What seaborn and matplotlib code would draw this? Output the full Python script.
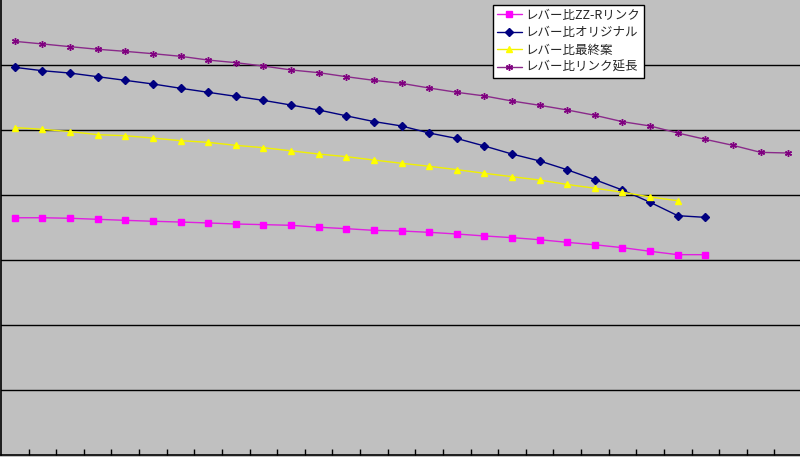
import matplotlib
matplotlib.use("Agg")
import matplotlib.pyplot as plt
import seaborn as sns
import pandas as pd
from matplotlib.lines import Line2D

sns.set_theme(style="white")
plt.rcParams['font.family'] = ['Noto Sans CJK JP', 'DejaVu Sans']

labels = ["レバー比ZZ-Rリンク", "レバー比オリジナル", "レバー比最終案", "レバー比リンク延長"]

zzr = [1.825, 1.825, 1.821, 1.813, 1.805, 1.798, 1.792, 1.785, 1.777, 1.772,
       1.767, 1.752, 1.741, 1.728, 1.723, 1.713, 1.700, 1.685, 1.672, 1.656,
       1.636, 1.617, 1.595, 1.567, 1.541, 1.541]
original = [2.982, 2.956, 2.938, 2.910, 2.882, 2.854, 2.821, 2.790, 2.759, 2.728,
            2.692, 2.654, 2.609, 2.565, 2.531, 2.477, 2.435, 2.377, 2.315, 2.262,
            2.194, 2.118, 2.038, 1.944, 1.841, 1.828]
final = [2.519, 2.505, 2.488, 2.464, 2.456, 2.438, 2.418, 2.405, 2.382, 2.364,
         2.340, 2.315, 2.295, 2.269, 2.244, 2.221, 2.195, 2.167, 2.141, 2.115,
         2.081, 2.052, 2.021, 1.985, 1.956]
extended = [3.182, 3.162, 3.141, 3.121, 3.105, 3.087, 3.067, 3.038, 3.018, 2.992,
            2.962, 2.941, 2.910, 2.882, 2.859, 2.823, 2.790, 2.762, 2.723, 2.690,
            2.654, 2.613, 2.564, 2.531, 2.477, 2.428, 2.382, 2.328, 2.323]

n_categories = 29
series = [zzr, original, final, extended]
line_colors = ["#E020E0", "#000080", "#F0F000", "#8A2A8A"]
marker_colors = ["#FF00FF", "#000080", "#FFFF00", "#800080"]
markers = ["s", "D", "^", (6, 2, 0)]
msizes = [4.2, 4.0, 5.0, 5.0]

fig = plt.figure(figsize=(8, 4.57), dpi=100)
fig.patch.set_facecolor("#C0C0C0")
ax = fig.add_axes([1 / 800, 2 / 457, 801 / 800, 455 / 457])
ax.set_facecolor("#C0C0C0")

handles = []
for vals, lab, lc, mc, mk, ms in zip(series, labels, line_colors, marker_colors, markers, msizes):
    df = pd.DataFrame({"x": list(range(len(vals))), "y": vals})
    sns.lineplot(data=df, x="x", y="y", ax=ax, color=lc, linewidth=1.0,
                 marker=mk, markersize=ms, markerfacecolor=mc,
                 markeredgecolor=mc, markeredgewidth=1.0)
    handles.append(Line2D([0], [0], color=lc, linewidth=1.0, marker=mk, markersize=ms,
                          markerfacecolor=mc, markeredgecolor=mc, label=lab))

ax.set_xlim(-0.5, n_categories - 0.5)
ax.set_ylim(0, 3.5)
ax.set_yticks([0.5, 1.0, 1.5, 2.0, 2.5, 3.0])
ax.yaxis.grid(True, color="black", linewidth=1.0)
ax.set_axisbelow(True)
ax.set_yticklabels([])
ax.tick_params(axis="y", length=0)
ax.set_xticks([i + 0.5 for i in range(n_categories - 1)])
ax.set_xticklabels([])
ax.tick_params(axis="x", direction="in", length=4, width=1, color="black", bottom=True)
ax.set_xlabel("")
ax.set_ylabel("")
for s in ["top", "right"]:
    ax.spines[s].set_visible(False)
for s in ["left", "bottom"]:
    ax.spines[s].set_color("black")
    ax.spines[s].set_linewidth(1.2)

leg = fig.legend(handles=handles, loc="upper left",
                 bbox_to_anchor=(493 / 800, 1 - 5 / 457),
                 fontsize=9, frameon=True, fancybox=False, framealpha=1,
                 edgecolor="black", facecolor="white", handlelength=2.0,
                 handletextpad=0.3, borderpad=0.3, labelspacing=0.35,
                 borderaxespad=0)
leg.get_frame().set_linewidth(1.0)

fig.savefig("out.png", dpi=100, facecolor=fig.get_facecolor())
